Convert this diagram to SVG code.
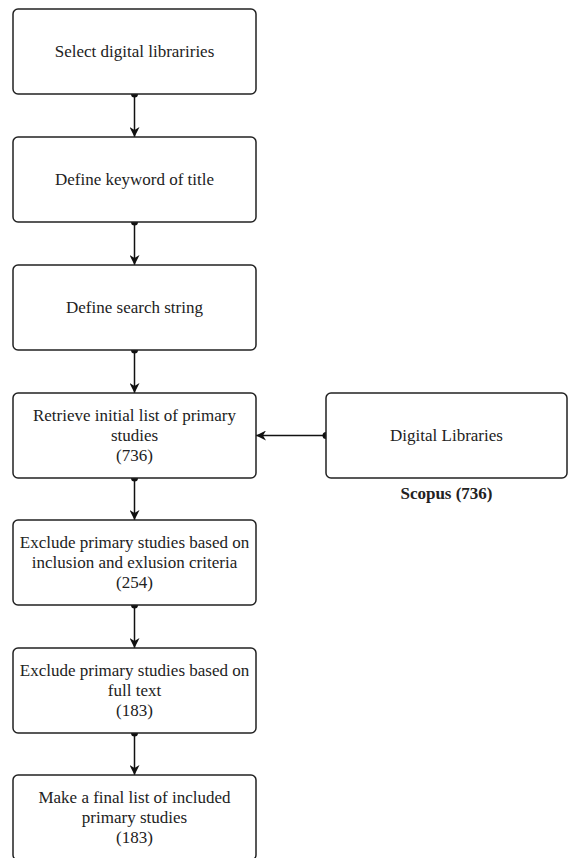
<svg xmlns="http://www.w3.org/2000/svg" width="568" height="858" viewBox="0 0 568 858">
<style>
.box{fill:#fff;stroke:#222;stroke-width:1.5}
.t{font-family:'Liberation Serif','Times New Roman',serif;font-size:17px;fill:#222;text-anchor:middle}
.b{font-weight:bold}
.c{stroke:#111;stroke-width:1.5;fill:none;marker-start:url(#dot);marker-end:url(#arr)}
</style>
<defs>
<marker id="arr" viewBox="0 0 10 10" refX="10" refY="5" markerWidth="10" markerHeight="10" markerUnits="userSpaceOnUse" orient="auto">
<path d="M0,0 L10,5 L0,10 L3,5 z" fill="#111"/>
</marker>
<marker id="dot" viewBox="0 0 8 8" refX="4" refY="4" markerWidth="8" markerHeight="8" markerUnits="userSpaceOnUse" orient="auto">
<circle cx="4" cy="4" r="3.5" fill="#111"/>
</marker>
</defs>
<g id="connectors">
<line class="c" x1="134.5" y1="94" x2="134.5" y2="137"/>
<line class="c" x1="134.5" y1="222" x2="134.5" y2="265"/>
<line class="c" x1="134.5" y1="350" x2="134.5" y2="393"/>
<line class="c" x1="134.5" y1="478" x2="134.5" y2="520"/>
<line class="c" x1="134.5" y1="605" x2="134.5" y2="648"/>
<line class="c" x1="134.5" y1="733" x2="134.5" y2="775"/>
<line class="c" x1="326" y1="435.5" x2="256" y2="435.5"/>
</g>
<g font-family="Liberation Serif, Times New Roman, serif">
<g id="n1"><rect class="box" x="13" y="9" width="243" height="85" rx="5"/><text class="t" x="134.5" y="57">Select digital librariries</text></g>
<g id="n2"><rect class="box" x="13" y="137" width="243" height="85" rx="5"/><text class="t" x="134.5" y="185">Define keyword of title</text></g>
<g id="n3"><rect class="box" x="13" y="265" width="243" height="85" rx="5"/><text class="t" x="134.5" y="313">Define search string</text></g>
<g id="n4"><rect class="box" x="13" y="393" width="243" height="85" rx="5"/><text class="t" x="134.5" y="421">Retrieve initial list of primary</text><text class="t" x="134.5" y="441">studies</text><text class="t" x="134.5" y="461">(736)</text></g>
<g id="n5"><rect class="box" x="13" y="520" width="243" height="85" rx="5"/><text class="t" x="134.5" y="548">Exclude primary studies based on</text><text class="t" x="134.5" y="568">inclusion and exlusion criteria</text><text class="t" x="134.5" y="588">(254)</text></g>
<g id="n6"><rect class="box" x="13" y="648" width="243" height="85" rx="5"/><text class="t" x="134.5" y="676">Exclude primary studies based on</text><text class="t" x="134.5" y="696">full text</text><text class="t" x="134.5" y="716">(183)</text></g>
<g id="n7"><rect class="box" x="13" y="775" width="243" height="85" rx="5"/><text class="t" x="134.5" y="803">Make a final list of included</text><text class="t" x="134.5" y="823">primary studies</text><text class="t" x="134.5" y="843">(183)</text></g>
<g id="n8"><rect class="box" x="326" y="393" width="241" height="85" rx="5"/><text class="t" x="446.5" y="441">Digital Libraries</text></g>
<g id="lbl"><text class="t b" x="446.5" y="499">Scopus (736)</text></g>
</g>
</svg>
